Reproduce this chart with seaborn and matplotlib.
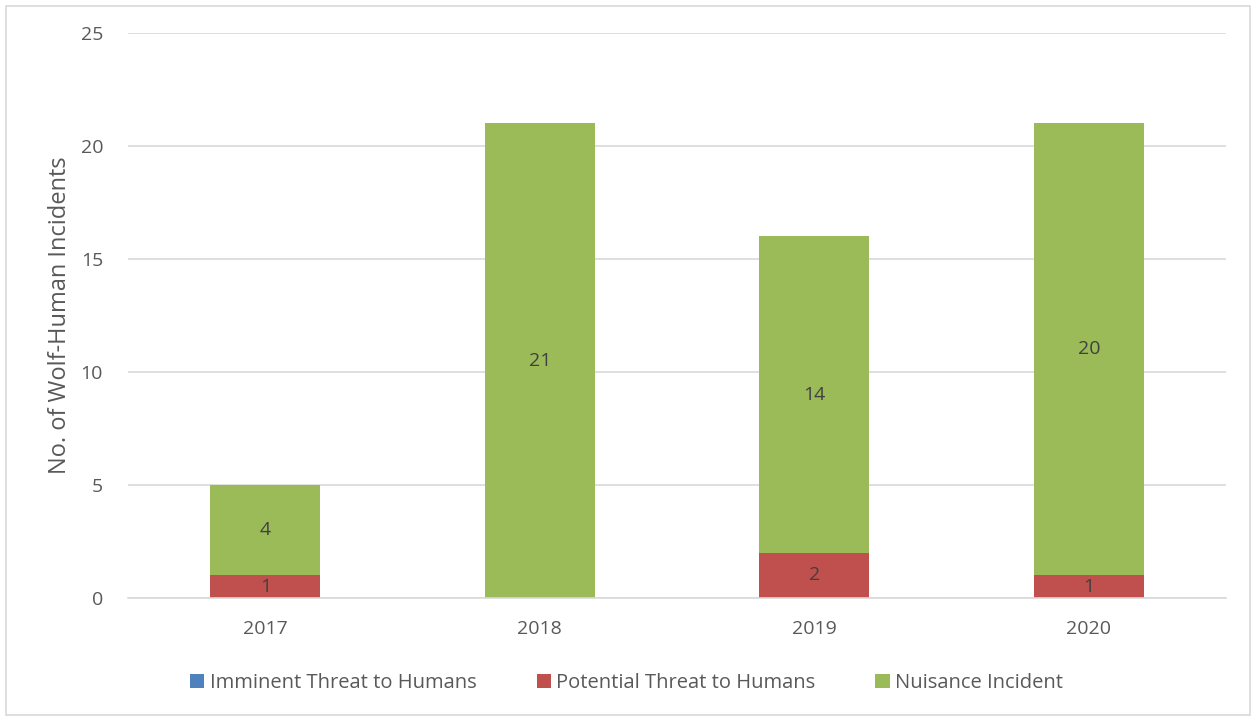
import matplotlib
matplotlib.use("Agg")
import matplotlib.pyplot as plt
from matplotlib.patches import Rectangle, Patch
import numpy as np
import pandas as pd
import seaborn as sns

years = ["2017", "2018", "2019", "2020"]
imminent = [0, 0, 0, 0]
potential = [1, 0, 2, 1]
nuisance = [4, 21, 14, 20]

series_names = ["Imminent Threat to Humans", "Potential Threat to Humans", "Nuisance Incident"]
series_colors = ["#4F81BD", "#C0504D", "#9BBB59"]
y_ticks = [0, 5, 10, 15, 20, 25]

sns.set_style("white")
plt.rcParams["font.family"] = ["Open Sans", "DejaVu Sans"]

fig = plt.figure(figsize=(12.53, 7.17), dpi=100)
ax = fig.add_axes([0.1022, 0.166, 0.8763, 0.788])

df = pd.DataFrame({"year": years, "imminent": imminent,
                   "potential": potential, "nuisance": nuisance})

bottom = np.zeros(len(years))
containers = []
for col, color in zip(["imminent", "potential", "nuisance"], series_colors):
    sns.barplot(data=df, x="year", y=col, color=color, width=0.4,
                bottom=bottom.copy(), ax=ax, saturation=1, linewidth=0)
    containers.append(ax.containers[-1])
    bottom = bottom + df[col].to_numpy()

for cont, vals in zip(containers, [imminent, potential, nuisance]):
    labels = [str(v) if v else "" for v in vals]
    ax.bar_label(cont, labels=labels, label_type="center",
                 fontsize=14, color="#404040")

ax.set_ylim(0, 25)
ax.set_yticks(y_ticks)
ax.set_xlim(-0.5, 3.5)
ax.grid(axis="y", color="#D9D9D9", linewidth=1.2)
ax.set_axisbelow(True)
for s in ["top", "right", "left"]:
    ax.spines[s].set_visible(False)
ax.spines["bottom"].set_color("#D9D9D9")
ax.spines["bottom"].set_linewidth(1.2)
ax.tick_params(axis="both", length=0, labelsize=14, labelcolor="#595959")
ax.tick_params(axis="y", pad=18)
ax.tick_params(axis="x", pad=16)
ax.set_xlabel("")
ax.set_ylabel("No. of Wolf-Human Incidents", fontsize=17, color="#595959", labelpad=6)

handles = [Patch(facecolor=c, edgecolor="none") for c in series_colors]
fig.legend(handles, series_names, loc="center", bbox_to_anchor=(0.5, 0.047),
           ncol=3, frameon=False, fontsize=14.5, labelcolor="#595959",
           handlelength=0.7, handleheight=0.7, handletextpad=0.25,
           columnspacing=3.0)

fig.patches.append(Rectangle((6 / 1253, 2 / 717), 1244 / 1253, 709 / 717,
                             transform=fig.transFigure, fill=False,
                             edgecolor="#D9D9D9", linewidth=1.2))

fig.savefig("out.png", dpi=100)
